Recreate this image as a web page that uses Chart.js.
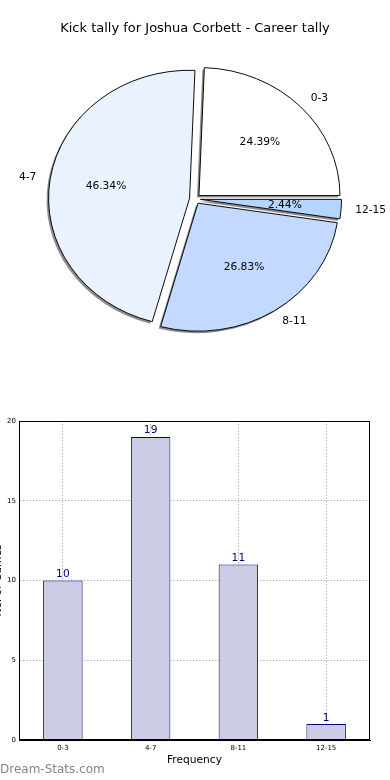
<!DOCTYPE html>
<html><head><meta charset="utf-8">
<script src="https://cdn.jsdelivr.net/npm/chart.js@4"></script>
<style>
html,body{margin:0;padding:0;background:#fff;}
#wrap{position:relative;width:390px;height:780px;overflow:hidden;}
#pie{position:absolute;left:0;top:0;}
#bar{position:absolute;left:0;top:390px;}
</style></head><body>
<div id="wrap"><canvas id="pie" width="390" height="390"></canvas><canvas id="bar" width="390" height="390"></canvas></div>
<script>
const categories = ['0-3', '4-7', '8-11', '12-15'];
const tallies = [10, 19, 11, 1];
const pieColors = ['#FFFFFF', '#EBF2FF', '#C4D9FF', '#B4D5FF'];
const yTicks = [0, 5, 10, 15, 20];
const chartTitle = 'Kick tally for Joshua Corbett - Career tally';
const xTitle = 'Frequency';
const yTitle = 'No. of Games';
const watermark = 'Dream-Stats.com';

Chart.defaults.font.family = "'DejaVu Sans', sans-serif";
Chart.defaults.color = '#000';

// Chart.js draws clockwise; the original goes counter-clockwise from 3 o'clock
const pieOrder = [3, 2, 1, 0];
const pieLabels = pieOrder.map(i => categories[i]);
const pieValues = pieOrder.map(i => tallies[i]);
const pieBg = pieOrder.map(i => pieColors[i]);
const total = tallies.reduce((a, b) => a + b, 0);

const RX = 141, RY = 128, EXPLODE = 5.5;
const SY = RY / RX;

const piePlugin = {
  id: 'piefx',
  afterDatasetUpdate(chart, args) {
    args.meta.data.forEach(a => {
      const m = (a.startAngle + a.endAngle) / 2;
      a.x += Math.cos(m) * EXPLODE;
      a.y += Math.sin(m) * EXPLODE;
    });
  },
  beforeDatasetsDraw(chart) {
    const ca = chart.chartArea;
    const cx = (ca.left + ca.right) / 2, cy = (ca.top + ca.bottom) / 2;
    const ctx = chart.ctx;
    // shadows: same arcs drawn by the library, shifted down-left in gray
    ctx.save();
    ctx.translate(-2, 2);
    ctx.translate(cx, cy); ctx.scale(1, SY); ctx.translate(-cx, -cy);
    chart.getDatasetMeta(0).data.forEach(a => {
      const s = Object.create(a);
      s.options = Object.assign({}, a.options, { backgroundColor: 'rgba(0,0,0,0.45)', borderWidth: 0 });
      s.draw(ctx);
    });
    ctx.restore();
    ctx.save();
    ctx.translate(cx, cy); ctx.scale(1, SY); ctx.translate(-cx, -cy);
  },
  afterDatasetsDraw(chart) {
    const ctx = chart.ctx;
    ctx.restore();
    const ca = chart.chartArea;
    const cy = (ca.top + ca.bottom) / 2;
    const meta = chart.getDatasetMeta(0);
    ctx.save();
    ctx.fillStyle = '#000';
    ctx.font = "10.67px 'DejaVu Sans'";
    ctx.textBaseline = 'middle';
    meta.data.forEach((a, i) => {
      const m = (a.startAngle + a.endAngle) / 2;
      const lx = a.x + 1.1 * RX * Math.cos(m);
      const ly = cy + (a.y - cy + 1.1 * RX * Math.sin(m)) * SY;
      ctx.textAlign = Math.cos(m) > 0 ? 'left' : 'right';
      ctx.fillText(pieLabels[i], lx, ly);
      const px = a.x + 0.6 * RX * Math.cos(m);
      const py = cy + (a.y - cy + 0.6 * RX * Math.sin(m)) * SY;
      ctx.textAlign = 'center';
      ctx.fillText((pieValues[i] / total * 100).toFixed(2) + '%', px, py);
    });
    ctx.restore();
  }
};

new Chart(document.getElementById('pie'), {
  type: 'pie',
  data: { labels: pieLabels, datasets: [{ data: pieValues, backgroundColor: pieBg, borderColor: '#000', borderWidth: 1, radius: RX, hoverOffset: 0 }] },
  options: {
    responsive: false, animation: false, events: [], rotation: 90, radius: RX,
    layout: { padding: { top: 0, bottom: 28.3, left: 0, right: 0 } },
    plugins: {
      legend: { display: false }, tooltip: { enabled: false },
      title: { display: true, text: chartTitle, color: '#000', font: { size: 13, weight: 'normal' }, padding: { top: 20.7, bottom: 0 } }
    }
  },
  plugins: [piePlugin]
});

const barPlugin = {
  id: 'barfx',
  afterDraw(chart) {
    const ctx = chart.ctx, ca = chart.chartArea;
    ctx.save();
    ctx.strokeStyle = '#000'; ctx.lineWidth = 1; ctx.setLineDash([]);
    ctx.strokeRect(Math.round(ca.left) + 0.5, Math.round(ca.top) + 0.5, Math.round(ca.right - ca.left) - 1, Math.round(ca.bottom - ca.top) - 1);
    const meta = chart.getDatasetMeta(0);
    ctx.fillStyle = '#000080';
    ctx.font = "10.67px 'DejaVu Sans'";
    ctx.textAlign = 'center'; ctx.textBaseline = 'alphabetic';
    meta.data.forEach((b, i) => ctx.fillText(String(tallies[i]), b.x, b.y - 3.5));
    ctx.fillStyle = '#858585';
    ctx.font = "12px 'DejaVu Sans'";
    ctx.textAlign = 'left'; ctx.textBaseline = 'middle';
    ctx.fillText(watermark, 0, 380);
    ctx.restore();
  }
};

new Chart(document.getElementById('bar'), {
  type: 'bar',
  data: { labels: categories, datasets: [{ data: tallies, backgroundColor: '#CCCCE6', borderColor: '#000080', borderWidth: 1, barPercentage: 0.45, categoryPercentage: 1 }] },
  options: {
    responsive: false, animation: false, events: [],
    layout: { padding: { top: 31, right: 20, left: 0, bottom: 0 } },
    plugins: { legend: { display: false }, tooltip: { enabled: false } },
    scales: {
      x: {
        z: 1,
        grid: { offset: false, color: '#a8a8a8', drawTicks: false },
        border: { color: '#000', dash: [1.2, 2] },
        ticks: { font: { size: 7 }, padding: 4, color: '#000' },
        title: { display: true, text: xTitle, color: '#000', font: { size: 10.67 }, padding: { top: 0, bottom: 13.3 } },
        afterFit(s) { s.height = 40; }
      },
      y: {
        z: 1, min: yTicks[0], max: yTicks[yTicks.length - 1],
        grid: { color: '#a8a8a8', drawTicks: false },
        border: { color: '#000', dash: [1.2, 2] },
        ticks: { stepSize: 5, font: { size: 7 }, padding: 3, color: '#000' },
        title: { display: true, text: yTitle, color: '#000', font: { size: 10.67 }, padding: { top: -8.1, bottom: 0 } },
        afterFit(s) { s.width = 19; }
      }
    }
  },
  plugins: [barPlugin]
});
</script>
</body></html>
